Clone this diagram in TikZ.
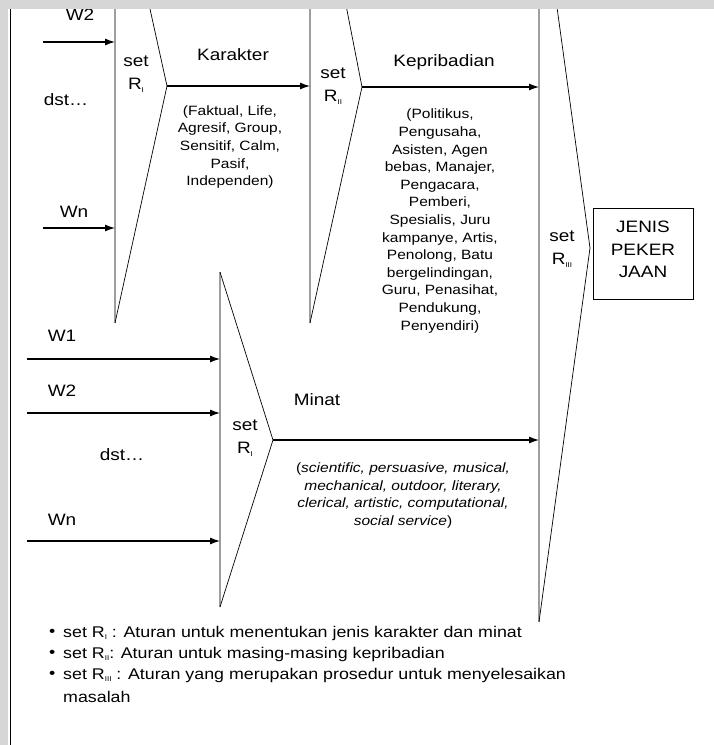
\documentclass[tikz,border=0pt]{standalone}
\usepackage{fontspec}
\setmainfont[FakeStretch=1.15]{Liberation Sans}
\usetikzlibrary{arrows.meta}
\newcommand{\Rsb}[1]{R\raisebox{-0.35ex}{\fontsize{7}{7}\selectfont #1}}
\begin{document}
\begin{tikzpicture}[x=1pt,y=-1pt,
  lbl/.style={font=\fontsize{16.5}{19}\selectfont, inner sep=0pt, align=center},
  setl/.style={font=\fontsize{16.5}{22.5}\selectfont, inner sep=0pt, align=center},
  lst/.style={font=\fontsize{13.5}{17.6}\selectfont, inner sep=0pt, align=center},
  bul/.style={font=\fontsize{15.5}{21}\selectfont, inner sep=0pt, anchor=west},
  vline/.style={draw=black!38, line width=1.4pt},
  dline/.style={draw=black, line width=0.7pt, line join=miter},
  arr/.style={draw=black, line width=1.1pt, -{Latex[length=10pt,width=7pt]}},
  band/.style={fill=black!16, draw=none},
]
\useasboundingbox (0,0) rectangle (714,745);
\fill[white] (0,0) rectangle (714,745);

% ---------- shape points ----------
\coordinate (r1top) at (115,0);
\coordinate (r1bot) at (115,323);
\coordinate (r1dtop) at (148,0);
\coordinate (r1tip) at (167,86);
\coordinate (r2top) at (310,0);
\coordinate (r2bot) at (310,323);
\coordinate (r2dtop) at (345,0);
\coordinate (r2tip) at (362,87);
\coordinate (r3top) at (539,0);
\coordinate (r3bot) at (539,622);
\coordinate (r3dtop) at (556,0);
\coordinate (r3tip) at (590,248);
\coordinate (r4top) at (220,272);
\coordinate (r4bot) at (220,607);
\coordinate (r4tip) at (273,440);

% vertical (gray) sides
\draw[vline] (r1top) -- (r1bot);
\draw[vline] (r2top) -- (r2bot);
\draw[vline] (r3top) -- (r3bot);
\draw[vline] (r4top) -- (r4bot);

% ---------- input arrows ----------
\coordinate (in1s) at (43,42);   \coordinate (in1e) at (115,42);
\coordinate (in2s) at (43,228);  \coordinate (in2e) at (115,228);
\coordinate (in3s) at (27,359);  \coordinate (in3e) at (220,359);
\coordinate (in4s) at (27,413);  \coordinate (in4e) at (220,413);
\coordinate (in5s) at (27,541);  \coordinate (in5e) at (220,541);
\draw[arr] (in1s) -- (in1e);
\draw[arr] (in2s) -- (in2e);
\draw[arr] (in3s) -- (in3e);
\draw[arr] (in4s) -- (in4e);
\draw[arr] (in5s) -- (in5e);

% ---------- outputs ----------
\coordinate (kar) at (310,86);
\coordinate (kep) at (539,87);
\coordinate (min) at (539,440);
\draw[arr] (r1tip) -- (kar);
\draw[arr] (r2tip) -- (kep);
\draw[arr] (r4tip) -- (min);

% diagonal sides
\draw[dline] (r1dtop) -- (r1tip) -- (r1bot);
\draw[dline] (r2dtop) -- (r2tip) -- (r2bot);
\draw[dline] (r3dtop) -- (r3tip) -- (r3bot);
\draw[dline] (r4top) -- (r4tip) -- (r4bot);

% ---------- labels ----------
\node[lbl] (w2a) at (80,15) {W2};
\node[lbl] (dsta) at (66,100) {dst\ldots};
\node[lbl] (wna) at (74,212) {Wn};
\node[setl] (set1) at (136,74) {set\\\Rsb{I}};
\node[lbl] (karakter) at (233,55) {Karakter};
\node[lst] (karlist) at (230,147) {(Faktual, Life,\\Agresif, Group,\\Sensitif, Calm,\\Pasif,\\Independen)};
\node[setl] (set2) at (333,86) {set\\\Rsb{II}};
\node[lbl] (kepribadian) at (444,62) {Kepribadian};
\node[lst] (keplist) at (440,221) {(Politikus,\\Pengusaha,\\Asisten, Agen\\bebas, Manajer,\\Pengacara,\\Pemberi,\\Spesialis, Juru\\kampanye, Artis,\\Penolong, Batu\\bergelindingan,\\Guru, Penasihat,\\Pendukung,\\Penyendiri)};
\node[setl] (set3) at (562,249) {set\\\Rsb{III}};
\node[draw=black, line width=1pt, minimum width=100pt, minimum height=91pt, inner sep=0pt] (box) at (643,253.5) {};
\node[setl] (jenis) at (643,249.5) {JENIS\\PEKER\\JAAN};

\node[lbl] (w1b) at (62,336) {W1};
\node[lbl] (w2b) at (62,391) {W2};
\node[lbl] (dstb) at (122,455) {dst\ldots};
\node[lbl] (wnb) at (62,520) {Wn};
\node[setl] (set4) at (245,438) {set\\\Rsb{I}};
\node[lbl] (minat) at (317,400) {Minat};
\node[lst] (minlist) at (403,495.5) {(\textit{scientific, persuasive, musical,}\\\textit{mechanical, outdoor, literary,}\\\textit{clerical, artistic, computational,}\\\textit{social service})};

% ---------- legend ----------
\node[bul] (b1) at (49,633) {\textbullet};
\node[bul] (b2) at (49,654) {\textbullet};
\node[bul] (b3) at (49,675) {\textbullet};
\node[bul] (t1) at (63,633) {set \Rsb{I} : Aturan untuk menentukan jenis karakter dan minat};
\node[bul] (t2) at (63,654) {set \Rsb{II}: Aturan untuk masing-masing kepribadian};
\node[bul] (t3) at (63,675) {set \Rsb{III} : Aturan yang merupakan prosedur untuk menyelesaikan};
\node[bul] (t4) at (63,697) {masalah};

% ---------- frame / bands ----------
\fill[band] (0,0) rectangle (714,9);
\fill[band] (0,0) rectangle (8,745);
\coordinate (lt) at (10.5,9);
\coordinate (lb) at (10.5,745);
\draw[black, line width=1.2pt] (lt) -- (lb);
\end{tikzpicture}
\end{document}
